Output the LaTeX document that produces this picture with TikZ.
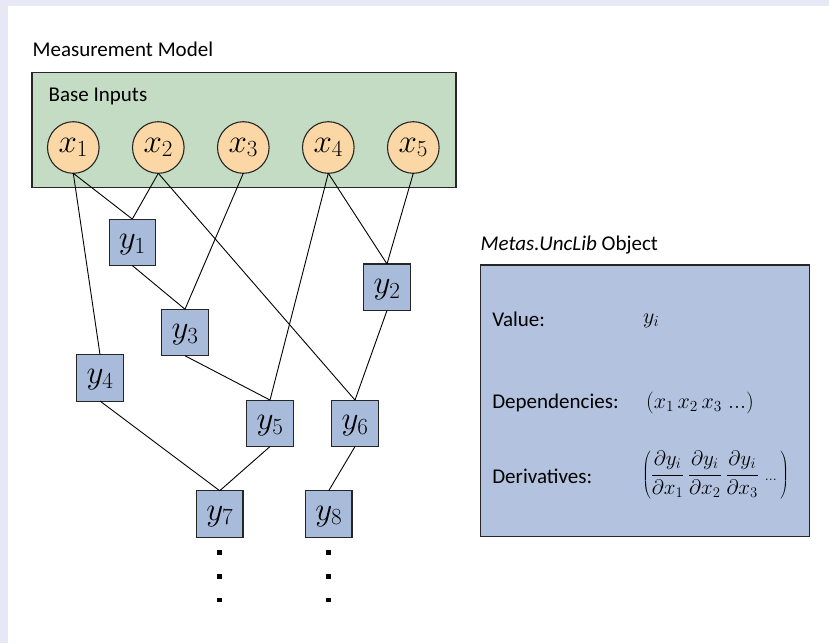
\RequirePackage{fix-cm}
\documentclass[tikz,border=0pt]{standalone}
\usepackage{fontspec}
\setmainfont{Carlito}

\definecolor{pagetint}{HTML}{E6E8F5}
\definecolor{inputbg}{HTML}{C4DBC4}
\definecolor{inputfill}{HTML}{FBD7A5}
\definecolor{derivedfill}{HTML}{A9BBDA}
\definecolor{objfill}{HTML}{B3C3DF}
\definecolor{edgegray}{HTML}{262626}

% indexed variable as set inside the graph nodes
\newcommand{\bigvar}[2]{{\fontsize{33}{33}\selectfont$#1_{#2}$}}
% partial derivative of y_i with respect to x_k
\newcommand{\pderiv}[1]{\frac{\partial y_i}{\partial x_{#1}}}

\begin{document}
\begin{tikzpicture}[x=1pt,y=-1pt,
  every node/.style={inner sep=0pt,outer sep=0pt},
  inputvar/.style={circle,draw=edgegray,line width=1.1pt,fill=inputfill,
    minimum size=51.6pt,text height=14pt,text depth=5pt},
  derivedvar/.style={rectangle,draw=edgegray,line width=1.1pt,fill=derivedfill,
    minimum size=46.5pt,text height=16pt,text depth=4pt},
  link/.style={draw=black,line width=0.9pt},
  caption/.style={anchor=base west,font=\fontsize{21}{25}\selectfont},
  panel/.style={rectangle,draw=edgegray,line width=1.2pt},
  ellipsisdot/.style={rectangle,fill=black,minimum size=4.5pt}]

% page background with tinted margin
\fill[pagetint] (0,0) rectangle (829,643);
\fill[white] (8,6) rectangle (829,643);
\useasboundingbox (0,0) rectangle (829,643);

% measurement model
\node[caption] (mmtitle) at (32.7,56.7) {Measurement Model};
\node[panel,fill=inputbg,minimum width=424pt,minimum height=114.6pt] (inputs) at (244,130) {};
\node[caption] (bititle) at (48.7,101.7) {Base Inputs};

\foreach \i in {1,...,5}
  \node[inputvar] (x\i) at ({73.3+85*(\i-1)},147.5) {\bigvar{x}{\i}};

\node[derivedvar] (y1) at (132.3,242.3) {\bigvar{y}{1}};
\node[derivedvar] (y2) at (387,287.2) {\bigvar{y}{2}};
\node[derivedvar] (y3) at (185,332.5) {\bigvar{y}{3}};
\node[derivedvar] (y4) at (100,377.8) {\bigvar{y}{4}};
\node[derivedvar] (y5) at (270,423.3) {\bigvar{y}{5}};
\node[derivedvar] (y6) at (355,423.3) {\bigvar{y}{6}};
\node[derivedvar] (y7) at (219.7,514) {\bigvar{y}{7}};
\node[derivedvar] (y8) at (328.7,514) {\bigvar{y}{8}};

% dependencies
\draw[link] (x1.south) -- (y1.north);
\draw[link] (x1.south) -- (y4.north);
\draw[link] (x2.south) -- (y1.north);
\draw[link] (x2.south) -- (y6.north);
\draw[link] (x3.south) -- (y3.north);
\draw[link] (x4.south) -- (y5.north);
\draw[link] (x4.south) -- (y2.north);
\draw[link] (x5.south) -- (y2.north);
\draw[link] (y1.south) -- (y3.north);
\draw[link] (y2.south) -- (y6.north);
\draw[link] (y3.south) -- (y5.north);
\draw[link] (y4.south) -- (y7.north);
\draw[link] (y5.south) -- (y7.north);
\draw[link] (y6.south) -- (y8.north);

% continuation dots
\foreach \k/\yy in {a/552.7,b/576.7,c/600} {
  \node[ellipsisdot] (d7\k) at (219.5,\yy) {};
  \node[ellipsisdot] (d8\k) at (328.5,\yy) {};
}

% uncertainty object
\node[caption] (objtitle) at (480.7,250) {\itshape Metas.UncLib\upshape\ Object};
\node[panel,fill=objfill,minimum width=328.6pt,minimum height=271.7pt] (obj) at (645,400.85) {};

\node[caption] (vallbl) at (492.3,326) {Value:};
\node[caption] (deplbl) at (492.3,408.3) {Dependencies:};
\node[caption] (derlbl) at (492.3,483.3) {Derivatives:};

\node[anchor=base west] (valexpr) at (643,323) {\fontsize{22}{26}\selectfont $y_i$};
\node[anchor=base west] (depexpr) at (646,408) {\fontsize{22}{26}\selectfont $(x_1\,x_2\,x_3\;...)$};
\node[anchor=base west] (derexpr) at (642,480) {\fontsize{21}{25}\selectfont
  $\displaystyle\left(\pderiv{1}\,\pderiv{2}\,\pderiv{3}\;{\scriptstyle...}\,\right)$};
\end{tikzpicture}
\end{document}
